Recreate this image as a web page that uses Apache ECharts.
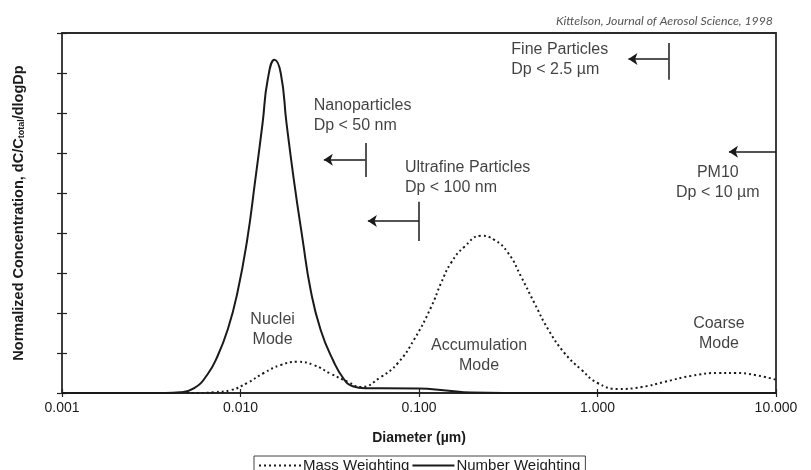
<!DOCTYPE html>
<html>
<head>
<meta charset="utf-8">
<script src="https://cdn.jsdelivr.net/npm/echarts@6/dist/echarts.min.js"></script>
<style>
  html, body { margin: 0; padding: 0; background: #fff; }
</style>
</head>
<body>
<div id="chart" style="width: 811px; height: 470px"></div>
<script>
// diameters (um) and normalized concentration
const numberDiam = [0.001, 0.0038, 0.0046, 0.0055, 0.0065, 0.0074, 0.0085, 0.0096, 0.0109, 0.0121, 0.0133, 0.0142, 0.0155, 0.0168, 0.0181, 0.0199, 0.0223, 0.0247, 0.0281, 0.0329, 0.0379, 0.0425, 0.05, 0.0612, 0.1, 0.142, 0.196, 0.3, 10];
const numberConc = [0, 0, 0.02, 0.12, 0.45, 0.9, 1.6, 2.5, 3.83, 5.33, 6.75, 7.83, 8.33, 8.0, 6.75, 5.33, 3.83, 2.58, 1.58, 0.83, 0.35, 0.17, 0.12, 0.12, 0.11, 0.06, 0.01, 0, 0];

const massDiam = [0.005, 0.0058, 0.0071, 0.0088, 0.0109, 0.0135, 0.0168, 0.0209, 0.0257, 0.0321, 0.04, 0.0472, 0.0612, 0.0762, 0.0937, 0.117, 0.133, 0.151, 0.179, 0.223, 0.264, 0.316, 0.374, 0.443, 0.531, 0.653, 0.813, 1.0, 1.31, 1.77, 2.38, 3.37, 4.78, 5.89, 7.62, 10];
const massConc = [0, 0, 0.02, 0.07, 0.25, 0.5, 0.7, 0.78, 0.7, 0.48, 0.28, 0.15, 0.4, 0.75, 1.33, 2.15, 2.75, 3.25, 3.65, 3.93, 3.83, 3.5, 2.9, 2.25, 1.58, 1.0, 0.58, 0.25, 0.1, 0.15, 0.28, 0.43, 0.5, 0.5, 0.45, 0.33];

// size cut-offs: bar at the cut size, arrow pointing to smaller sizes
const cutSize = [0.05, 0.1, 2.5, 10];
const cutBarLow = [5.4, 3.8, 7.83, null];
const cutBarHigh = [6.25, 4.78, 8.75, null];
const cutArrowY = [5.83, 4.3, 8.35, 6.03];
const cutArrowTip = [0.0293, 0.0517, 1.49, 5.45];

// annotation texts
const noteText = ["Nanoparticles\nDp < 50 nm", "Ultrafine Particles\nDp < 100 nm", "Fine Particles\nDp < 2.5 µm", "PM10\nDp < 10 µm", "Nuclei\nMode", "Accumulation\nMode", "Coarse\nMode"];
const noteDiam = [0.0257, 0.0834, 0.329, 4.72, 0.01513, 0.217, 4.79];
const noteConc = [6.94, 5.375, 8.34, 5.26, 1.575, 0.94, 1.49];
const noteAlign = ["left", "left", "left", "center", "center", "center", "center"];

const ink = "#1a1a1a";
const chart = echarts.init(document.getElementById("chart"));

const markLines = [];
cutSize.forEach((d, i) => {
    if (cutBarLow[i] !== null) {
        markLines.push([
            { coord: [d, cutBarLow[i]], symbol: "none" },
            { coord: [d, cutBarHigh[i]], symbol: "none" },
        ]);
    }
    markLines.push([
        { coord: [d, cutArrowY[i]], symbol: "none" },
        { coord: [cutArrowTip[i], cutArrowY[i]], symbol: "arrow" },
    ]);
});

const notes = noteText.map((t, i) => ({
    value: [noteDiam[i], noteConc[i]],
    label: { formatter: t, align: noteAlign[i] },
}));

const option = {
    animation: false,
    textStyle: { fontFamily: "Liberation Sans, Arial, sans-serif" },
    title: {
        text: "Kittelson, Journal of Aerosol Science, 1998",
        right: 33,
        top: 10,
        textStyle: {
            fontFamily: "Lato",
            fontStyle: "italic",
            fontWeight: "normal",
            fontSize: 12.3,
            color: "#555",
        },
    },
    grid: {
        left: 62,
        right: 35,
        top: 33,
        bottom: 77,
        show: true,
        borderColor: "#2a2a2a",
        borderWidth: 1.8,
    },
    legend: {
        left: 254,
        top: 456,
        data: ["Mass Weighting", "Number Weighting"],
        itemWidth: 42,
        itemHeight: 8,
        itemGap: 2,
        padding: [2, 5, 2, 4],
        borderColor: "#444",
        borderWidth: 1,
        itemStyle: { opacity: 0 },
        textStyle: { fontSize: 15, color: ink, padding: [0, 0, 0, -3] },
    },
    // axis shifted inward so its outward ticks cross the frame line
    xAxis: {
        type: "log",
        logBase: 10,
        min: 0.001,
        max: 10,
        offset: -4,
        name: "Diameter (µm)",
        nameLocation: "middle",
        nameGap: 42,
        nameTextStyle: { fontWeight: "bold", fontSize: 14, color: ink },
        axisLine: { show: false },
        axisTick: { length: 8, lineStyle: { color: "#222", width: 1.2 } },
        axisLabel: {
            fontSize: 14,
            color: ink,
            margin: 12,
            formatter: v => v.toFixed(3),
        },
        splitLine: { show: false },
    },
    yAxis: {
        type: "value",
        min: 0,
        max: 9,
        interval: 1,
        offset: -5,
        name: "{a|Normalized Concentration, dC/C}{s|total}{a|/dlogDp}",
        nameLocation: "middle",
        nameGap: 41,
        nameTextStyle: {
            rich: {
                a: { fontWeight: "bold", fontSize: 14.5, color: ink },
                s: { fontWeight: "bold", fontSize: 9, color: ink, verticalAlign: "bottom" },
            },
        },
        axisLine: { show: false },
        axisTick: { show: true, length: 10, lineStyle: { color: "#222", width: 1.2 } },
        axisLabel: { show: false },
        splitLine: { show: false },
    },
    series: [
        {
            name: "Mass Weighting",
            type: "line",
            data: massDiam.map((d, i) => [d, massConc[i]]),
            smooth: 0.5,
            showSymbol: false,
            symbol: "none",
            lineStyle: { color: ink, width: 2, type: [2, 3] },
            itemStyle: { color: ink },
            z: 3,
        },
        {
            name: "Number Weighting",
            type: "line",
            data: numberDiam.map((d, i) => [d, numberConc[i]]),
            smooth: 0.5,
            showSymbol: false,
            symbol: "none",
            lineStyle: { color: ink, width: 2 },
            itemStyle: { color: ink },
            z: 4,
            markLine: {
                silent: true,
                symbolSize: [9, 9],
                label: { show: false },
                lineStyle: { color: ink, width: 1.5, type: "solid" },
                data: markLines,
            },
        },
        {
            name: "notes",
            type: "scatter",
            symbolSize: 0,
            silent: true,
            data: notes,
            label: {
                show: true,
                position: [0, 0],
                verticalAlign: "middle",
                fontSize: 16,
                lineHeight: 20,
                color: "#111",
            },
        },
    ],
};
chart.setOption(option);
</script>
</body>
</html>
